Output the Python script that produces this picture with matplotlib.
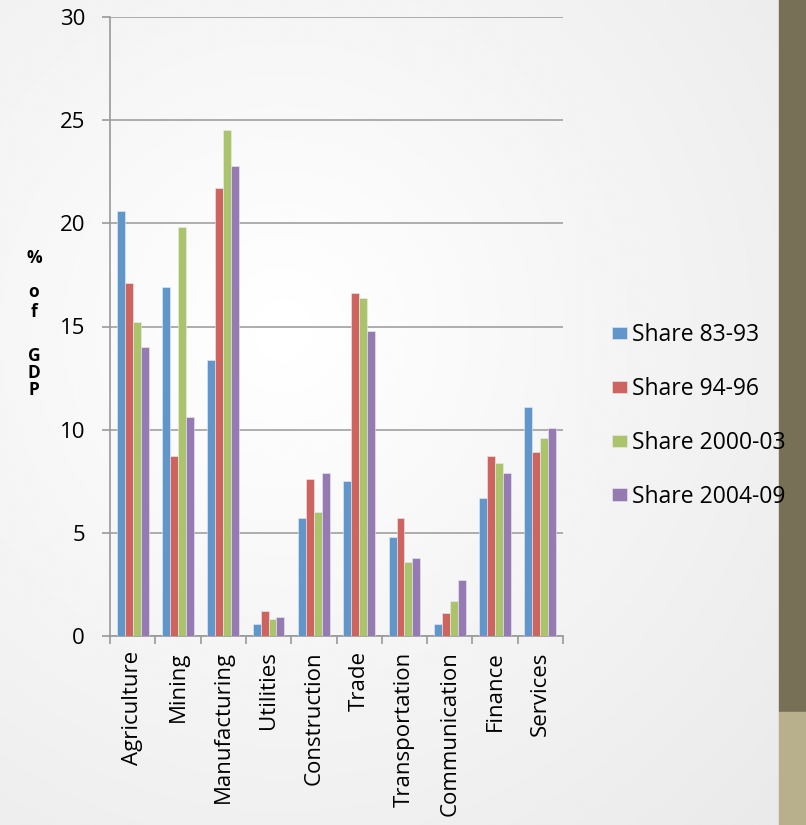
import matplotlib
matplotlib.use('Agg')
import matplotlib.pyplot as plt
import numpy as np
from matplotlib.patches import Rectangle

# Данные
sectors = ['Agriculture', 'Mining', 'Manufacturing', 'Utilities', 'Construction',
           'Trade', 'Transportation', 'Communication', 'Finance', 'Services']
share_83_93 = [20.6, 16.9, 13.4, 0.6, 5.7, 7.5, 4.8, 0.6, 6.7, 11.1]
share_94_96 = [17.1, 8.7, 21.7, 1.2, 7.6, 16.6, 5.7, 1.1, 8.7, 8.9]
share_2000_03 = [15.2, 19.8, 24.5, 0.8, 6.0, 16.4, 3.6, 1.7, 8.4, 9.6]
share_2004_09 = [14.0, 10.6, 22.8, 0.9, 7.9, 14.8, 3.8, 2.7, 7.9, 10.1]
series_names = ['Share 83-93', 'Share 94-96', 'Share 2000-03', 'Share 2004-09']
series = [share_83_93, share_94_96, share_2000_03, share_2004_09]
colors = ['#6096c9', '#cd645f', '#abc46c', '#957bb2']

plt.rcParams['font.family'] = ['Open Sans', 'DejaVu Sans']

fig = plt.figure(figsize=(8.06, 8.25), dpi=100)

# Фон слайда: мягкий радиальный градиент
bg = fig.add_axes([0, 0, 1, 1], zorder=-10)
yy, xx = np.mgrid[0:1:300j, 0:1:300j]
r = np.sqrt((xx - 0.35) ** 2 + (yy - 0.4) ** 2)
bg.imshow(1 - 0.09 * np.clip(r / 0.9, 0, 1), cmap='gray', vmin=0, vmax=1,
          extent=[0, 1, 0, 1], aspect='auto', origin='upper')
bg.add_patch(Rectangle((779 / 806, (825 - 712) / 825), 1, 1, color='#787056'))
bg.add_patch(Rectangle((779 / 806, 0), 1, (825 - 712) / 825, color='#b8b08c'))
bg.set_xlim(0, 1)
bg.set_ylim(0, 1)
bg.axis('off')

ax = fig.add_axes([110 / 806, (825 - 636) / 825, 453 / 806, 619 / 825])
ax.set_facecolor('none')

x = np.arange(len(sectors))
width = 0.175
for i, (vals, name, c) in enumerate(zip(series, series_names, colors)):
    ax.bar(x + (i - 1.5) * width, vals, width, color=c, label=name,
           edgecolor='#e8eef5', linewidth=0.4, zorder=3)

ax.set_xlim(-0.5, len(sectors) - 0.5)
ax.set_ylim(0, 30)
ax.set_yticks([0, 5, 10, 15, 20, 25, 30])
ax.set_xticks(x)
ax.set_xticklabels(sectors, rotation=90, fontsize=16)
ax.set_xticks(np.arange(-0.5, len(sectors)), minor=True)
ax.tick_params(axis='x', which='major', length=0, pad=11)
ax.tick_params(axis='x', which='minor', length=6, width=1.2, color='#999999')
ax.tick_params(axis='y', length=6, width=1.2, color='#999999', pad=12, labelsize=16)
ax.grid(axis='y', color='#a0a0a0', linewidth=1.2, zorder=0)
for s in ['top', 'right']:
    ax.spines[s].set_visible(False)
for s in ['left', 'bottom']:
    ax.spines[s].set_color('#999999')
    ax.spines[s].set_linewidth(1.2)

# Подпись оси Y, буквы друг под другом
for ch, ypix in [('%', 258), ('o', 292), ('f', 312), ('G', 356), ('D', 373), ('P', 390)]:
    fig.text(34 / 806, 1 - ypix / 825, ch, ha='center', va='center',
             fontsize=12.5, fontweight='bold')

fig.legend(loc='center left', bbox_to_anchor=(591 / 806, 1 - 416 / 825),
           frameon=False, fontsize=16.5, labelspacing=1.3, handlelength=0.65,
           handleheight=0.45, handletextpad=0.25)

fig.savefig('out.png', dpi=100)
